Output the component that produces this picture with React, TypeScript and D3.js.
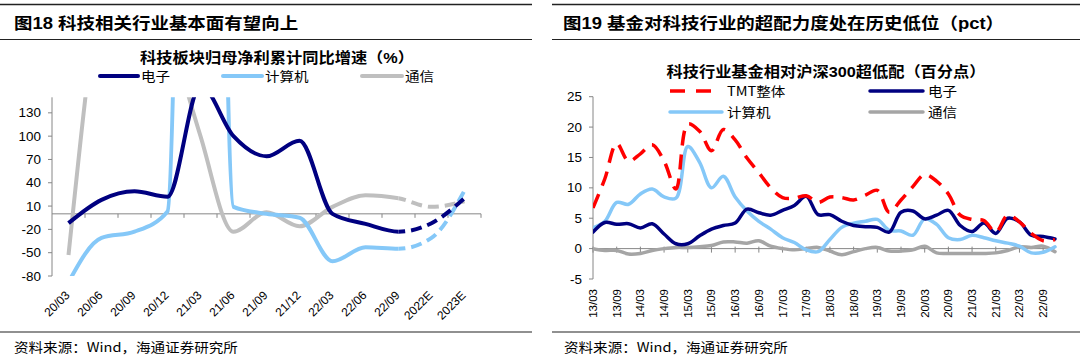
import React from 'react';
import * as d3 from 'd3';

// ---------- Left chart data (图18) ----------
const leftCategories = ['20/03', '20/06', '20/09', '20/12', '21/03', '21/06', '21/09', '21/12', '22/03', '22/06', '22/09', '2022E', '2023E'];
const leftElectronic = [-12, 18, 29, 22, 165, 100, 74, 94, 0, -13, -23, -12, 20];
const leftComputer = [-88, -31, -23, 3, 2000, 9, 0, -5, -61, -43, -45, -31, 30];
const leftTelecom = [-53, 300, 420, 250, 100, -23, 2, -16, 9, 24, 20, 9, 16];
const leftYTicks = [-80, -50, -20, 10, 40, 70, 100, 130];
const leftForecastStart = '22/09';

// ---------- Right chart data (图19) ----------
const rightCategories = [
  '13/03', '13/06', '13/09', '13/12', '14/03', '14/06', '14/09', '14/12',
  '15/03', '15/06', '15/09', '15/12', '16/03', '16/06', '16/09', '16/12',
  '17/03', '17/06', '17/09', '17/12', '18/03', '18/06', '18/09', '18/12',
  '19/03', '19/06', '19/09', '19/12', '20/03', '20/06', '20/09', '20/12',
  '21/03', '21/06', '21/09', '21/12', '22/03', '22/06', '22/09', '22/12',
];
const rightTickLabels = [
  '13/03', '13/09', '14/03', '14/09', '15/03', '15/09', '16/03', '16/09', '17/03', '17/09',
  '18/03', '18/09', '19/03', '19/09', '20/03', '20/09', '21/03', '21/09', '22/03', '22/09',
];
const rightTMT = [
  6.7, 11.5, 17.3, 14.4, 15.6, 17.1, 14.4, 9.8,
  20.5, 19.3, 16.1, 19.6, 17.9, 14.9, 12.5, 10.0,
  8.4, 8.3, 8.7, 7.6, 8.5, 8.4, 8.0, 8.8,
  9.6, 6.0, 8.0, 10.2, 12.2, 11.1, 9.0, 5.5,
  4.8, 4.6, 2.7, 5.5, 4.4, 2.5, 1.3, 1.5,
];
const rightElectronic = [
  2.7, 4.3, 4.0, 4.1, 3.4, 4.1, 2.4, 0.8,
  0.8, 2.1, 3.2, 3.8, 4.2, 6.5, 5.9, 5.5,
  6.3, 7.1, 8.6, 5.6, 5.6, 4.5, 3.8, 3.6,
  3.5, 2.7, 6.0, 6.2, 4.9, 5.5, 6.3, 3.8,
  2.8, 4.2, 2.5, 5.0, 4.4, 2.2, 2.0, 1.6,
];
const rightComputer = [
  3.4, 4.5, 7.6, 7.3, 9.0, 9.8, 8.5, 8.3,
  16.8, 14.2, 10.0, 11.9, 8.5, 6.2, 4.5, 3.2,
  1.8, 1.0, -0.2, -0.5, 1.5, 3.5, 4.2, 4.5,
  4.8, 3.0, 2.9, 2.2, 4.9, 4.0, 1.8, 1.5,
  2.2, 1.8, 1.3, 0.9, 0.4, -0.7, -0.6, 0.3,
];
const rightTelecom = [
  0, -0.3, -0.3, -0.9, -0.8, -0.3, 0, 0.2,
  0.2, 0.3, 0.5, 1.1, 1.1, 0.9, 1.3, 0.4,
  0, -0.2, 0, 0.2, -0.4, -1.0, -0.5, 0,
  0.2, -0.4, -0.4, -0.2, 0.4, -0.7, -0.8, -0.8,
  -0.8, -0.8, -0.7, -0.3, 0.3, 0.2, 0.4, -0.5,
];
const rightYTicks = [-5, 0, 5, 10, 15, 20, 25];

// ---------- styling ----------
const NAVY = '#000080';
const LIGHT = '#85C8F8';
const GRAY_L = '#BFBFBF';
const GRAY_R = '#A5A5A5';
const RED = '#FF0000';
const AXIS = '#868686';
const SX = 1.12; // horizontal text stretch seen in the reference
const FONT = '"Liberation Sans", Arial, "Noto Sans CJK SC", sans-serif';
const CJK = '"Noto Sans CJK SC", "Liberation Sans", sans-serif';

function T(props: { x: number; y: number; anchor?: string; size: number; weight?: number | string; fill?: string; family?: string; children: React.ReactNode }) {
  const { x, y, anchor = 'start', size, weight = 'normal', fill = '#000', family = FONT, children } = props;
  return (
    <text transform={`translate(${x},${y}) scale(${SX},1)`} textAnchor={anchor} fontSize={size} fontWeight={weight} fill={fill} fontFamily={family}>
      {children}
    </text>
  );
}

export default function App() {
  // left scales
  const xL = d3.scaleBand().domain(leftCategories).range([52, 481]).paddingInner(0).paddingOuter(0);
  const cxL = (c: string) => (xL(c) as number) + xL.bandwidth() / 2;
  const yL = d3.scaleLinear().domain([-80, 150]).range([276, 97.3]);
  const lineL = (vals: number[]) =>
    d3.line<number>()
      .x((_, i) => cxL(leftCategories[i]))
      .y((d) => yL(d))
      .curve(d3.curveMonotoneX)(vals) as string;
  const splitX = cxL(leftForecastStart);

  // right scales
  const xR = d3.scalePoint().domain(rightCategories).range([593, 1055]);
  const yR = d3.scaleLinear().domain([-5, 25]).range([279, 96.7]);
  const lineR = (vals: number[]) =>
    d3.line<number>()
      .x((_, i) => xR(rightCategories[i]) as number)
      .y((d) => yR(d))
      .curve(d3.curveCatmullRom.alpha(0.5))(vals) as string;

  const leftSeries = [
    { vals: leftTelecom, color: GRAY_L },
    { vals: leftComputer, color: LIGHT },
    { vals: leftElectronic, color: NAVY },
  ];

  return (
    <svg width={1080} height={356} style={{ display: 'block', position: 'absolute', left: 0, top: 0 }}>
      <defs>
        <clipPath id="clipLsolid"><rect x={52} y={97.3} width={splitX - 52} height={276 - 97.3} /></clipPath>
        <clipPath id="clipLdash"><rect x={splitX} y={97.3} width={481 - splitX} height={276 - 97.3} /></clipPath>
        <clipPath id="clipR"><rect x={593} y={90} width={470} height={195} /></clipPath>
      </defs>
      <rect x={0} y={0} width={1080} height={356} fill="#fff" />

      {/* header rules */}
      <line x1={0} x2={532} y1={4.5} y2={4.5} stroke="#222" strokeWidth={1.5} />
      <line x1={0} x2={532} y1={39.5} y2={39.5} stroke="#222" strokeWidth={1.2} />
      <line x1={552} x2={1080} y1={4.5} y2={4.5} stroke="#222" strokeWidth={1.5} />
      <line x1={552} x2={1080} y1={39.5} y2={39.5} stroke="#222" strokeWidth={1.2} />
      <line x1={0} x2={532} y1={332} y2={332} stroke="#222" strokeWidth={1.2} />
      <line x1={552} x2={1080} y1={332} y2={332} stroke="#222" strokeWidth={1.2} />

      <T x={14} y={29} size={16.5} weight="bold">图18 科技相关行业基本面有望向上</T>
      <T x={563} y={29} size={16.5} weight="bold">图19 基金对科技行业的超配力度处在历史低位（pct）</T>
      <T x={14} y={352} size={13} family={CJK}>资料来源：Wind，海通证券研究所</T>
      <T x={564} y={352} size={13} family={CJK}>资料来源：Wind，海通证券研究所</T>

      {/* ---------- LEFT CHART ---------- */}
      <T x={277} y={63} anchor="middle" size={14.5} weight="bold">科技板块归母净利累计同比增速（%）</T>
      <line x1={100} x2={138} y1={76} y2={76} stroke={NAVY} strokeWidth={4} strokeLinecap="round" />
      <T x={141} y={81} size={13} family={CJK}>电子</T>
      <line x1={223} x2={262} y1={76} y2={76} stroke={LIGHT} strokeWidth={4} strokeLinecap="round" />
      <T x={265} y={81} size={13} family={CJK}>计算机</T>
      <line x1={362} x2={402} y1={76} y2={76} stroke={GRAY_L} strokeWidth={4} strokeLinecap="round" />
      <T x={405} y={81} size={13} family={CJK}>通信</T>

      {/* y axis */}
      <line x1={52} x2={52} y1={97.3} y2={276} stroke={AXIS} strokeWidth={1} />
      {leftYTicks.map((t) => (
        <g key={t}>
          <line x1={48} x2={52} y1={yL(t)} y2={yL(t)} stroke={AXIS} />
          <T x={41} y={yL(t) + 4.5} anchor="end" size={12}>{t}</T>
        </g>
      ))}
      {/* zero axis with category ticks */}
      <line x1={52} x2={481} y1={yL(0)} y2={yL(0)} stroke={AXIS} strokeWidth={1} />
      {leftCategories.map((c) => (
        <line key={'t' + c} x1={(xL(c) as number) + xL.bandwidth()} x2={(xL(c) as number) + xL.bandwidth()} y1={yL(0)} y2={yL(0) + 4} stroke={AXIS} />
      ))}
      {leftCategories.map((c) => (
        <text key={'l' + c} transform={`translate(${cxL(c) + 2},${296}) rotate(-45)`} textAnchor="end" fontSize={12} fontFamily={FONT}>{c}</text>
      ))}

      {leftSeries.map((s, i) => (
        <g key={i}>
          <path d={lineL(s.vals)} fill="none" stroke={s.color} strokeWidth={4} strokeLinejoin="round" clipPath="url(#clipLsolid)" />
          <path d={lineL(s.vals)} fill="none" stroke={s.color} strokeWidth={4} strokeDasharray="11 6" clipPath="url(#clipLdash)" />
        </g>
      ))}

      {/* ---------- RIGHT CHART ---------- */}
      <T x={826} y={77} anchor="middle" size={14.5} weight="bold">科技行业基金相对沪深300超低配（百分点）</T>
      <line x1={670} x2={716} y1={91} y2={91} stroke={RED} strokeWidth={3.5} strokeDasharray="15 11" />
      <T x={727} y={95.5} size={13} family={CJK}>TMT整体</T>
      <line x1={870} x2={923} y1={91} y2={91} stroke={NAVY} strokeWidth={3.5} strokeLinecap="round" />
      <T x={928} y={95.5} size={13} family={CJK}>电子</T>
      <line x1={670} x2={722} y1={112} y2={112} stroke={LIGHT} strokeWidth={3.5} strokeLinecap="round" />
      <T x={727} y={116.5} size={13} family={CJK}>计算机</T>
      <line x1={870} x2={923} y1={112} y2={112} stroke={GRAY_R} strokeWidth={3.5} strokeLinecap="round" />
      <T x={928} y={116.5} size={13} family={CJK}>通信</T>

      <line x1={593} x2={593} y1={96.7} y2={279} stroke={AXIS} strokeWidth={1} />
      {rightYTicks.map((t) => (
        <g key={'ry' + t}>
          <line x1={589} x2={593} y1={yR(t)} y2={yR(t)} stroke={AXIS} />
          <T x={582} y={yR(t) + 4.5} anchor="end" size={12}>{t}</T>
        </g>
      ))}
      <line x1={593} x2={1055} y1={yR(0)} y2={yR(0)} stroke={AXIS} strokeWidth={1} />
      {rightTickLabels.map((c) => (
        <g key={'rx' + c}>
          <line x1={xR(c) as number} x2={xR(c) as number} y1={yR(0) - 2} y2={yR(0) + 4} stroke={AXIS} />
          <text transform={`translate(${(xR(c) as number) + 4},${289}) rotate(-90)`} textAnchor="end" fontSize={11.5} fontFamily={FONT}>{c}</text>
        </g>
      ))}

      <g clipPath="url(#clipR)">
        <path d={lineR(rightTelecom)} fill="none" stroke={GRAY_R} strokeWidth={3.5} strokeLinejoin="round" strokeLinecap="round" />
        <path d={lineR(rightComputer)} fill="none" stroke={LIGHT} strokeWidth={3.5} strokeLinejoin="round" strokeLinecap="round" />
        <path d={lineR(rightElectronic)} fill="none" stroke={NAVY} strokeWidth={3.5} strokeLinejoin="round" strokeLinecap="round" />
        <path d={lineR(rightTMT)} fill="none" stroke={RED} strokeWidth={3.5} strokeDasharray="15 9" />
      </g>
    </svg>
  );
}
